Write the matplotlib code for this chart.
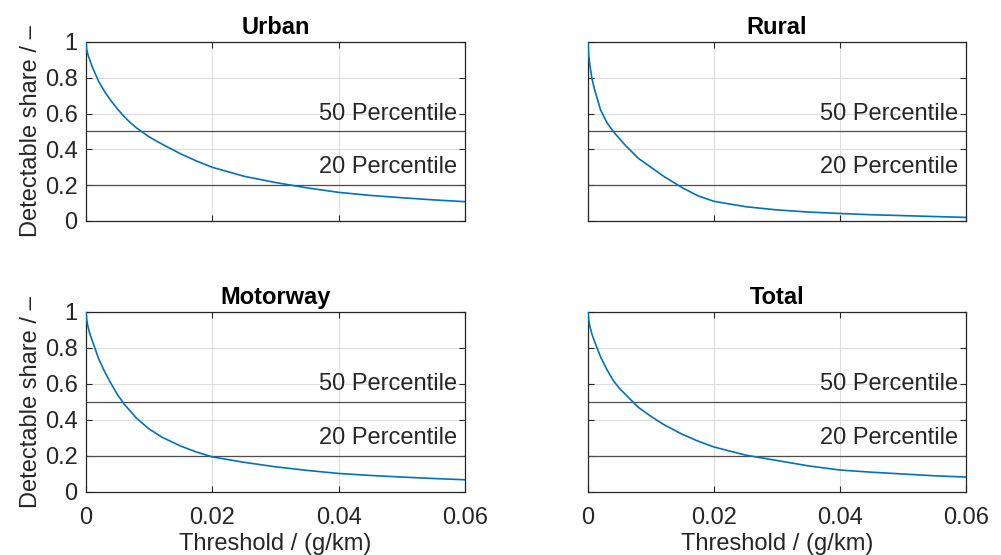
import matplotlib
matplotlib.use('Agg')
import matplotlib.pyplot as plt

plt.rcParams['font.family'] = ['Liberation Sans', 'DejaVu Sans']

# threshold grid (g/km) and detectable share per road type
threshold = [0, 0.0001, 0.0003, 0.0006, 0.001, 0.002, 0.003, 0.004, 0.005, 0.006,
             0.007, 0.008, 0.009, 0.01, 0.012, 0.015, 0.0175, 0.02, 0.025, 0.03,
             0.035, 0.04, 0.045, 0.05, 0.055, 0.06]
urban = [1.0, 0.96, 0.93, 0.90, 0.86, 0.78, 0.72, 0.67, 0.625, 0.585,
         0.55, 0.52, 0.495, 0.47, 0.43, 0.375, 0.335, 0.30, 0.25, 0.215,
         0.185, 0.16, 0.143, 0.13, 0.118, 0.108]
rural = [1.0, 0.93, 0.87, 0.80, 0.74, 0.62, 0.55, 0.50, 0.46, 0.42,
         0.385, 0.35, 0.325, 0.30, 0.25, 0.185, 0.14, 0.11, 0.08, 0.062,
         0.05, 0.042, 0.035, 0.03, 0.025, 0.02]
motorway = [1.0, 0.96, 0.92, 0.88, 0.84, 0.74, 0.665, 0.60, 0.54, 0.49,
            0.45, 0.41, 0.38, 0.35, 0.305, 0.255, 0.222, 0.195, 0.165, 0.14,
            0.12, 0.103, 0.092, 0.083, 0.075, 0.068]
total = [1.0, 0.96, 0.92, 0.88, 0.84, 0.75, 0.68, 0.62, 0.575, 0.54,
         0.505, 0.47, 0.445, 0.42, 0.375, 0.32, 0.282, 0.25, 0.205, 0.175,
         0.145, 0.122, 0.11, 0.10, 0.09, 0.083]

titles = ['Urban', 'Rural', 'Motorway', 'Total']
series = [urban, rural, motorway, total]
percentiles = [0.5, 0.2]
percentile_labels = ['50 Percentile', '20 Percentile']
label_y = [0.6, 0.3]
xticks = [0, 0.02, 0.04, 0.06]
xtick_labels = ['0', '0.02', '0.04', '0.06']
yticks = [0, 0.2, 0.4, 0.6, 0.8, 1]
ytick_labels = ['0', '0.2', '0.4', '0.6', '0.8', '1']

fig = plt.figure(figsize=(10.01, 5.55), dpi=100)
W, H = 1001, 555
# pixel boxes: left, top, right, bottom
boxes = [(86, 42, 465, 221), (588, 42, 966, 221),
         (86, 312, 465, 492), (588, 312, 966, 492)]

fs = 17
dark = (0.15, 0.15, 0.15)
for i, (title, ys) in enumerate(zip(titles, series)):
    l, t, r, b = boxes[i]
    ax = fig.add_axes([l / W, 1 - b / H, (r - l) / W, (b - t) / H])
    ax.plot(threshold, ys, color=(0, 0.447, 0.741), lw=1.2, zorder=3)
    for p in percentiles:
        ax.axhline(p, color=(0.3, 0.3, 0.3), lw=0.9, zorder=2)
    for txt, ty in zip(percentile_labels, label_y):
        ax.text(0.0588, ty, txt, ha='right', va='center', fontsize=fs,
                color=(0.15, 0.15, 0.15), zorder=4)
    ax.set_xlim(0, 0.06)
    ax.set_ylim(0, 1)
    ax.set_xticks(xticks)
    ax.set_yticks(yticks)
    ax.grid(True, color=(0.87, 0.87, 0.87), lw=0.8, zorder=0)
    ax.set_axisbelow(True)
    ax.tick_params(direction='in', top=True, right=True, length=4,
                   labelsize=fs, colors=dark, width=0.8)
    for s in ax.spines.values():
        s.set_color(dark)
        s.set_linewidth(0.9)
    ax.set_title(title, fontsize=fs, fontweight='bold', pad=6)
    if i >= 2:
        ax.set_xticklabels(xtick_labels)
        ax.set_xlabel('Threshold / (g/km)', fontsize=fs, color=dark, labelpad=3)
    else:
        ax.set_xticklabels([])
    if i % 2 == 0:
        ax.set_yticklabels(ytick_labels)
        ax.set_ylabel('Detectable share / \u2013', fontsize=fs, color=dark,
                      labelpad=2)
    else:
        ax.set_yticklabels([])
    ax.tick_params(axis='x', pad=11)
    ax.tick_params(axis='y', pad=6)

fig.savefig('out.png', dpi=100)
